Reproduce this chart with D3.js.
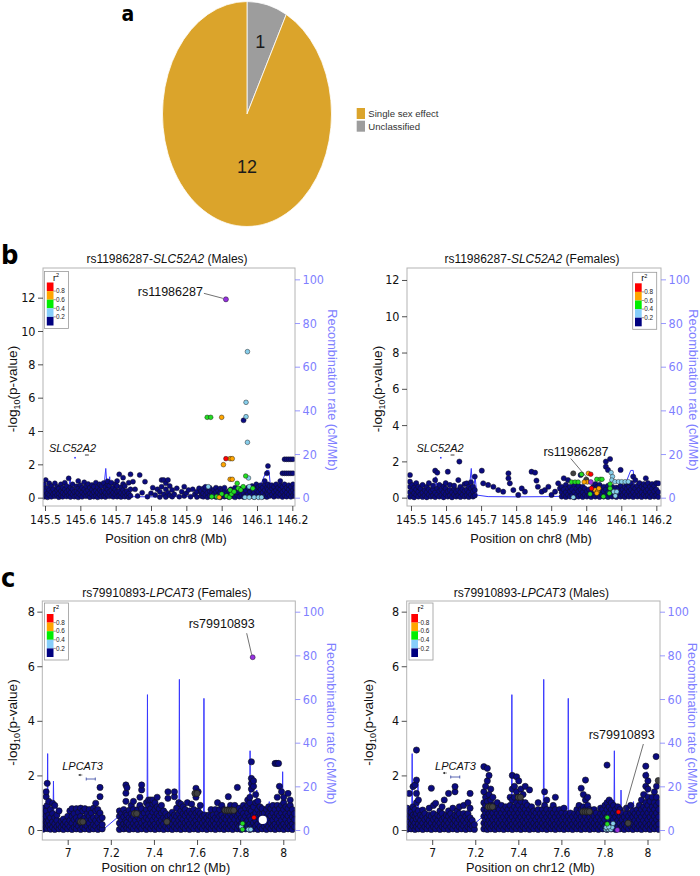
<!DOCTYPE html>
<html><head><meta charset="utf-8">
<script src="https://cdn.jsdelivr.net/npm/d3@7/dist/d3.min.js"></script>
<style>
body{margin:0;background:#fff}
svg{display:block}
text{font-family:"Liberation Sans",Arial,sans-serif}
.nar{font-family:"Liberation Sans Narrow","DejaVu Sans Condensed","Liberation Sans",sans-serif}
</style>
</head><body>
<svg id="chart" width="700" height="876"></svg>
<script>
// ---------------- DATA ----------------
// panel a
const pieCategories = ["Single sex effect", "Unclassified"];
const pieValues = [12, 1];

// tick labels
const chr8Ticks = [145.5,145.6,145.7,145.8,145.9,146.0,146.1,146.2];
const chr12Ticks = [7,7.2,7.4,7.6,7.8,8];
const pvalTicksB = [0,2,4,6,8,10,12];
const pvalTicksC = [0,2,4,6,8];
const recombTicks = [0,20,40,60,80,100];
const ldLegendLabels = ["0.8","0.6","0.4","0.2"];

// recombination rate (cM/Mb) by position (Mb)
const recombChr8 = [[145.49,0.6],[145.52,1.0],[145.55,0.8],[145.566,1.2],[145.571,9.6],[145.576,1.0],[145.6,0.6],[145.62,1.5],[145.64,0.8],[145.665,2.0],[145.672,13.4],[145.677,1.5],[145.683,9.6],[145.688,1.2],[145.72,0.5],[145.8,0.4],[145.9,0.5],[145.95,0.8],[146.0,1.2],[146.05,0.8],[146.1,1.5],[146.127,12.5],[146.134,12.5],[146.14,1.5],[146.17,1.0],[146.21,2.0]];
const recombDotsChr8 = [[145.585,18.3]];
const recombChr12 = [[6.882,3],[6.9,4],[6.905,8],[6.907,35],[6.909,6],[6.925,5],[6.932,7],[6.934,22.4],[6.936,8],[6.945,8],[6.95,10.5],[6.955,3],[6.98,2],[7.05,1.5],[7.1,1],[7.15,1],[7.168,0.5],[7.235,6.1],[7.25,3],[7.3,2],[7.35,3],[7.368,4],[7.37,62],[7.372,4],[7.4,2],[7.45,2],[7.5,2],[7.516,3],[7.518,69],[7.52,3],[7.55,2],[7.6,2],[7.63,3],[7.632,60.3],[7.634,3],[7.7,2],[7.75,2],[7.8,2],[7.844,3],[7.846,36.3],[7.848,4],[7.86,4],[7.875,5],[7.877,18.3],[7.879,5],[7.9,5],[7.93,8],[7.935,13],[7.94,6],[7.97,4],[7.995,4],[7.997,26.7],[7.999,4],[8.03,3],[8.06,3]];

// genes
const genesChr8 = [{name:"SLC52A2", start:145.613, end:145.624}];
const genesChr12 = [{name:"LPCAT3", arrowStart:7.05, arrowEnd:7.068, start:7.086, end:7.128}];

// ---- b, Males: -log10 p by position; navy columns [pos, v1, v2, ...] ----
const bMaleNavy = [[145.497,.05,.3,.55,.8],[145.502,.1,.4,1.06],[145.507,.02,.25,.6],[145.512,.15,.45,.86],[145.518,.05,.35,.7],[145.523,.2,.5],[145.528,.08,.3,.86],[145.534,.15,.45,.65],[145.539,.03,.25,.55],[145.545,.12,.4,.8],[145.55,.05,.3,.6],[145.556,.2,.5,.9],[145.561,.07,.35,.7],[145.567,.15,.45,1.16],[145.572,.04,.3,.62],[145.578,.18,.5,.8],[145.583,.06,.35],[145.589,.12,.4,.68],[145.594,.02,.28,.56,1.0],[145.6,.15,.45,.75],[145.605,.05,.32,.6],[145.611,.2,.5,.92],[145.616,.08,.36,.7],[145.622,.14,.44,.82],[145.627,.03,.26,.6],[145.633,.18,.48,.76],[145.638,.06,.34,.66],[145.644,.12,.42,.9],[145.649,.02,.3,.62],[145.655,.16,.46,.8],[145.66,.06,.36,.7],[145.666,.12,.42,.88],[145.671,.04,.3,.64],[145.677,.16,.5,.78,.98],[145.682,.08,.36,.72],[145.688,.14,.44,.9],[145.693,.05,.3,.6],[145.699,.18,.48,.8],[145.704,.06,.36,.7,1.0],[145.71,.12,.4,1.4],[145.715,.04,.28,.62],[145.721,.16,.46,.82,1.2],[145.726,.06,.32,.7],[145.732,.14,.4],[145.737,.03,.26,.9],[145.742,.12,.5,1.4],
[145.749,.96],[145.755,.5],[145.762,.1],[145.768,1.36],[145.775,.3],[145.783,.96],[145.79,.06],[145.8,.26],[145.805,.6],[145.812,.16],[145.818,.5],[145.825,.04,.36],[145.83,.66,1.06],[145.836,.2,1.06],[145.842,.04,.5,.86],[145.848,.3,1.06],[145.853,.14,.7],[145.86,.06,.46],[145.866,.2],[145.873,.56],[145.88,.06],[145.887,.36],[145.894,.1,.66],[145.9,.26],[145.906,.46],[145.912,.06],[145.918,.5],[145.924,.2],[145.93,.04,.36],[145.936,.56],
[145.942,.1,.3,.4],[145.948,.05,.25,.55],[145.954,.15,.45,.65],[145.96,.03,.3],[145.966,.12,.4,.6],[145.972,.06,.3],[145.978,.18,.48,.2],[145.984,.04,.35,.6],[145.99,.12,.42],[145.996,.02,.3,.55],[146.002,.14,.45],[146.008,.06,.35,.6],[146.014,.12,.25],[146.02,.04,.4],[146.026,.16,.5],[146.032,.08,.3],[146.038,.02,.45,.6],[146.044,.14,.32],[146.05,.06,.4],[146.056,.16,.55],[146.062,.04,.3,4.64],[146.068,.12,.45],[146.074,.2,.6],[146.08,.08,.35],[146.086,.16,.5,.7],[146.092,.04,.3,.6],[146.098,.14,.45,.8],[146.104,.06,.35,.65],[146.11,.18,.5,.75],[146.116,.05,.3,.6],[146.122,.12,.45,.8,1.0],[146.128,.04,.3,.6,1.46],[146.131,.2,.5,.8,1.9],[146.136,.1,.4,.7],[146.142,.18,.55,.75],[146.148,.05,.35,.65],[146.154,.15,.45,.8],[146.16,.08,.3,.6],[146.166,.2,.5,.75,1.0],[146.172,.04,.35,.65,1.46],[146.178,.14,.45,.8,1.46,2.3],[146.184,.06,.3,.6,1.46,2.3],[146.19,.18,.5,.75,1.46,2.3],[146.196,.05,.35,.65,1.46,2.3],[146.202,.14,.45,.8,1.46,2.3],[146.207,.08,.3,.6]];
const bMaleGray = [];
const bMaleLightBlue = [[146.073,8.76],[146.069,5.72],[146.069,4.86],[146.073,3.32],[146.076,1.18],[145.962,.66],[146.078,.66],[146.066,.02],[146.078,.02],[146.092,.02],[146.104,.02],[146.113,.02]];
const bMaleGreen = [[145.959,4.82],[145.969,4.82],[146.068,1.3],[145.972,.06],[145.986,.06],[146.0,.22],[146.014,.1],[146.022,.02],[146.028,.22],[146.024,.46],[146.035,.36],[146.047,.56],[146.061,.66],[146.044,.86],[146.054,.46],[146.088,.56]];
const bMaleOrange = [[146.0,4.82],[146.024,2.34],[146.03,2.34],[146.005,1.98],[146.024,1.1],[146.03,1.1],[145.993,.02]];
const bMaleRed = [[146.012,2.34]];
const bMaleLead = [[146.012,11.9]];

// ---- b, Females ----
const bFemaleNavy = [[145.497,.05,.3,.6,.88,1.25],[145.503,.12,.4,.7],[145.509,.02,.25,.55],[145.515,.15,.45,.8],[145.521,.06,.32,.6],[145.527,.18,.5],[145.533,.04,.28,.7],[145.539,.12,.42],[145.545,.02,.3,.6],[145.551,.16,.46,.8],[145.557,.06,.34],[145.563,.12,.44,.66],[145.569,.03,.28,.97,1.49],[145.575,.16,.5,1.38],[145.581,.06,.36,.7],[145.587,.14,.44],[145.593,.02,.3,.62],[145.599,.18,.5,.8],[145.605,.06,.34,1.43],[145.611,.12,.42,.7],[145.617,.02,.3],[145.623,.16,.48,.66],[145.629,.06,.34],[145.635,.12,.42,.97],[145.638,1.99],[145.641,.04,.3,.6],[145.647,.16,.46],[145.653,.06,.36,.75],[145.659,.14,.44,.79],[145.665,.04,.3,.6],[145.671,.16,.5,.85],[145.677,.06,.34,.6],[145.682,.12,.42,1.16],
[145.702,1.49],[145.706,.79],[145.72,.7],[145.735,.6],[145.749,.42],[145.763,.33],[145.778,1.34,1.07],[145.782,.79],[145.792,.42],[145.806,.15],[145.816,.51],[145.825,.33],[145.844,1.43],[145.854,1.38],[145.858,.94],[145.862,.6],[145.873,.33],[145.882,.42],[145.892,.6],[145.901,.15],[145.911,.33],[145.92,.79],[145.925,.51],
[145.93,.06,.3,.6],[145.936,.14,.45,1.07],[145.942,.04,.3,.7],[145.948,.16,.5,.97],[145.954,.06,.35,.6],[145.96,.14,.45],[145.966,.02,.3,.7],[145.972,.16,.5],[145.978,.06,.35,.65],[145.984,.14,.45,1.25],[145.99,.04,.3,.6],[145.996,.16,.5],[146.002,.06,.35],[146.008,.14,.45],[146.014,.04,.3],[146.02,.16,.6],[146.026,.06,.75],[146.032,.14,.6],[146.038,.04,.3,.7],[146.044,.16,.5],[146.05,.06,.35,.6],[146.056,.14,.45,1.71,1.99],[146.062,.04,.3,.65,1.53],[146.068,.16,.5,2.13],[146.074,.06,.35,.6],[146.08,.14,.45],[146.086,.04,.3,.55],[146.092,.16,.5],[146.098,.06,.35,.65,1.53],[146.104,.14,.45],[146.11,.04,.3,.6],[146.116,.16,.5,.75],[146.122,.06,.35,.6],[146.128,.14,.45,.8],[146.134,.04,.3,.6,1.16],[146.14,.16,.5,.97],[146.146,.06,.35,.65],[146.152,.14,.45,.8],[146.158,.04,.3,.6],[146.164,.16,.5,.75],[146.17,.06,.35,.65,1.07],[146.176,.14,.45,.8],[146.182,.04,.3,.6],[146.188,.16,.5,.75],[146.194,.06,.35,.65],[146.2,.14,.45,.8],[146.206,.04,.3,.79]];
const bFemaleGray = [[145.963,1.34],[146.0,1.0]];
const bFemaleLightBlue = [[145.963,.02],[146.071,1.38],[146.075,1.16],[146.073,.97],[146.082,.88],[146.092,.88],[146.101,.88],[146.111,.88],[146.12,.88],[146.078,.33],[146.087,.33],[146.083,.1]];
const bFemaleGreen = [[145.987,1.29],[145.958,.86],[145.968,.86],[145.977,.86],[146.03,1.01],[146.04,1.01],[146.045,1.01],[146.068,.75],[146.068,.51],[146.011,.2],[146.049,.06],[146.066,.24]];
const bFemaleOrange = [[146.006,1.34],[146.003,.86],[145.994,.86],[146.025,.42],[146.032,.33],[146.036,.51],[146.03,.24]];
const bFemaleRed = [[146.013,1.29],[146.015,.51]];
const bFemaleLead = [[146.013,.86]];

// ---- c, Females ----
const cFemaleNavy = [[6.886,.03,.2,.4,.6,.8],[6.9,.1,.3,.5,.7,1.22,1.4],[6.905,.05,.25,.9,1.71],[6.912,.15,.35,.55,1.05],[6.92,.03,.2,.45,.75],[6.93,.1,.3,.6,.98],[6.94,.02,.22,.45,.9],[6.95,.12,.35,.55],[6.96,.04,.2,.7],[6.97,.1,.32],[6.98,.02,.2,.4],[6.99,.12,.3],[7.0,.04,.22,.5],[7.01,.12,.35,.7],[7.02,.02,.25,.5,.78],[7.03,.1,.38,.6],[7.04,.04,.22,.45,.78],[7.05,.14,.35,.65],[7.06,.02,.25,.5,.8],[7.07,.1,.38,.7],[7.08,.04,.2,.45,.78],[7.09,.14,.35,.6],[7.1,.02,.25,.5,.75],[7.11,.1,.38,.62],[7.12,.04,.2,.45,.8],[7.13,.14,.35,.7,.98],[7.14,.02,.25,.5,.75],[7.15,.1,.38,.62,1.22,1.56],[7.16,.04,.2,.45],
[7.24,.02,.25,.5,.7],[7.25,.12,.38,.6],[7.26,.04,.22,.48,.75],[7.27,.14,.35,.62,1.05,1.35,1.65],[7.275,.06,.28,.55,1.55],[7.285,.02,.2,.45,.72],[7.295,.12,.38,.6,.9],[7.305,.04,.24,.5,.75,1.05],[7.315,.14,.36,.62],[7.325,.02,.22,.48,.75],[7.335,.12,.38,.6,.9,1.2],[7.343,.04,.26,.52,.78,1.47,1.65],[7.355,.14,.36,.62],[7.365,.02,.2,.45,.75,1.0],[7.375,.12,.38,.6,.9,1.1],[7.385,.04,.24,.5,.78,1.1],[7.395,.14,.36,.65,.95,1.1],[7.405,.02,.22,.48,.75,1.0],[7.415,.12,.38,.6,.85,1.2],[7.425,.04,.26,.52,.78],[7.435,.14,.36,.62,.9],[7.445,.02,.22,.45,.7],[7.455,.12,.38,.6],[7.465,.04,.24,.5,1.16,1.4],[7.475,.14,.36,.55],[7.485,.02,.22,.45,.65],[7.495,.12,.35,.55,1.22,1.4],[7.505,.04,.24,.5,.8],[7.515,.14,.36,.6,1.0],[7.525,.02,.22,.45,.7,.95],[7.535,.12,.38,.6,.85],[7.545,.04,.26,.52,.75],[7.555,.14,.36,.62,1.0],[7.565,.02,.22,.48,.7],[7.575,.12,.38,.6,.95],[7.585,.04,.26,.5,.75],[7.595,.14,.36,.62,1.2,1.53],[7.605,.02,.22,.48,.7,1.4],[7.615,.12,.38,.6,.9],[7.625,.04,.26,.5],[7.635,.14,.36,.55],[7.645,.02,.22,.45],[7.655,.12,.35,.55],[7.665,.04,.24,.5,.75],[7.675,.14,.36,.55],[7.685,.02,.22,.45,.75],[7.695,.12,.38,.6,1.0],[7.705,.04,.24,.5,.75],[7.715,.14,.36,.55,.9],[7.725,.02,.22,.45,.75],[7.735,.12,.38,.6],[7.745,.04,.24,.5,.75,1.22],[7.755,.14,.36,.6,.9],[7.765,.02,.22,.48,.75],[7.775,.12,.38,.6,.9],[7.787,.04,.24,.5,.7,1.56],[7.795,.14,.36,.6,.8],[7.805,.02,.22,.45,.7],[7.815,.12,.38,.6,.9],[7.825,.04,.26,.5,.8],[7.835,.14,.36,.62,.9,1.1],[7.845,.02,.22,.48,.75,1.0,1.2],[7.852,.12,.38,.7,1.5,1.7,1.89,2.5],[7.862,.04,.26,.55,.85,1.6,1.8],[7.872,.14,.36,.62,1.0,1.3],[7.882,.02,.22,.48,.75,1.05],[7.892,.12,.38,.6,.85],[7.902,.04,.6,.78],[7.912,.14,.62],[7.922,.02,.22,.48,.75],[7.932,.12,.38,.6,.85],[7.942,.04,.26,.52,.78],[7.952,.14,.36,.62,.9],[7.962,.02,.22,.48,.75,2.44],[7.97,2.44],[7.972,.12,.38,.6,.9,1.2],[7.978,2.44],[7.982,.04,.26,.52,.78,1.6],[7.992,.14,.36,.62,.9,1.4],[8.002,.02,.22,.48,.75,1.0,1.2],[8.012,.12,.38,.6,.85],[8.022,.04,.26,.52,.78,1.34],[8.032,.14,.36,.62,.9,1.1],[8.042,.02,.22,.48,.75],[8.052,.12,.38,.6]];
const cFemaleGray = [[7.06,.3],[7.07,.3],[7.31,.6],[7.32,.6],[7.46,.3],[7.59,1.34],[7.6,1.34],[7.73,.72],[7.74,.72],[7.75,.72],[7.76,.72],[7.77,.72]];
const cFemaleWhite = [[7.905,.37]];
const cFemaleLightBlue = [[7.805,.12],[7.838,.02],[7.849,.02]];
const cFemaleGreen = [[7.811,.24],[7.811,.02]];
const cFemaleOrange = [];
const cFemaleRed = [[7.864,.46]];
const cFemaleLead = [[7.858,6.33]];

// ---- c, Males ----
const cMaleNavy = [[6.884,.03,.2,.4,.6,.8],[6.893,.12,.3,.5,.7,1.34],[6.902,.04,.22,.45,.65],[6.911,.14,.35,.55,.85,1.59],[6.92,.02,.25,.5,.75,1.65],[6.927,.12,.4,.6,1.0,1.34,1.83,2.93],[6.936,.04,.22,.45,.7,1.1],[6.946,.14,.35,.55],[6.956,.02,.25,.5,.73],[6.966,.12,.38,.6],[6.976,.04,.22,.45],[6.986,.14,.35,.55,.8],[6.996,.02,.25,.5,1.53],[7.006,.12,.38,.6,.9],[7.016,.04,.22,.45,.98],[7.026,.14,.35,.55],[7.036,.02,.25,.5,.7],[7.046,.12,.38,.6,.85],[7.056,.04,.22,.45,1.1],[7.066,.14,.35,.55],[7.076,.02,.25,.5,.7,1.34],[7.086,.12,.38,.6],[7.096,.04,.22,.45,.8],[7.106,.14,.35,.55,1.4,1.59],[7.116,.02,.25,.5,.7],[7.126,.12,.38,.6,.85],[7.136,.04,.22,.45],[7.146,.14,.35,.6,.9],[7.156,.02,.25,.5],[7.166,.12,.38,.6,1.0],[7.176,.04,.22,.45,.8,1.34],[7.186,.14,.35],[7.196,.02,.2],
[7.24,.04,.25,.5,.75,1.0,1.4,2.32],[7.248,.14,.38,.62,.9,1.2,1.6],[7.256,.02,.22,.48,.75,1.05,1.8,2.26],[7.264,.12,.35,.6,.85,1.3,2.0],[7.272,.04,.25,.5,.75,1.1,1.5],[7.282,.14,.38,.62,.9,1.2],[7.292,.02,.22,.48,.75],[7.302,.12,.35,.6,.85,1.0],[7.312,.04,.25,.5,.75],[7.322,.14,.38,.62,.9],[7.332,.02,.22,.48,.75],[7.342,.12,.35,.6,.85],[7.352,.04,.25,.5,.75],[7.362,.14,.38,.62,.9,1.2],[7.372,.02,.22,.48,.75,1.1,1.5,2.0],[7.382,.12,.35,.6,.85,1.2,1.6],[7.392,.04,.25,.5,.75,1.0,1.4,1.95],[7.402,.14,.38,.62,.9,1.2,1.8],[7.412,.02,.22,.48,.75,1.05,1.5],[7.422,.12,.35,.6,.85,1.3],[7.432,.04,.25,.5,.75,1.0,1.6],[7.442,.14,.38,.62,.9],[7.452,.02,.22,.48,.75,1.47],[7.462,.12,.35,.6,.85],[7.472,.04,.25,.5,.7],[7.482,.14,.38,.62],[7.492,.02,.22,.48,.75,1.0],[7.502,.12,.35,.6],[7.512,.04,.25,.5,.75],[7.522,.14,.38,.62,.9,1.4],[7.532,.02,.22,.48,.75,1.1],[7.542,.12,.35,.6],[7.552,.04,.25,.5,.75],[7.562,.14,.38,.62,.9],[7.572,.02,.22,.48,.75,1.2],[7.582,.12,.35,.6],[7.592,.04,.25,.5,.75],[7.602,.14,.38,.62],[7.612,.02,.22,.48,.8],[7.622,.12,.35,.6],[7.632,.04,.25,.5],[7.642,.14,.38,.62],[7.652,.02,.22,.48],[7.662,.12,.35,.6],[7.672,.04,.25,.5,.75],[7.682,.14,.38,.62,.9],[7.692,.02,.22,.48,.75,1.53],[7.702,.12,.35,.6,.85,1.3],[7.712,.04,.25,.5,.75,1.1,1.83],[7.722,.14,.38,.62,.9,1.2],[7.732,.02,.22,.48,.75],[7.742,.12,.35,.6],[7.752,.04,.25,.5,.75],[7.762,.14,.38,.62],[7.772,.02,.22,.48],[7.782,.12,.35,.6,.8],[7.792,.04,.25,.5,.75],[7.802,.14,.38,.62,.9],[7.812,.02,.22,.48,.75,1.0,2.38],[7.822,.12,.35,.6,.85,1.1],[7.832,.04,.25,.5,.75,1.0],[7.842,.14,.38,.62,.9],[7.852,.02,.22,.48,.75],[7.862,.12,.35,.6,.85],[7.872,.04,.25,.5,.75],[7.882,.14,.38,.62],[7.892,.02,.22,.48],[7.902,.12,.35,.6,.8],[7.912,.04,.25,.5],[7.922,.14,.38,.62,.9],[7.932,.02,.22,.48,.7],[7.942,.12,.35,.6],[7.952,.04,.25,.5,.75],[7.962,.14,.38,.62,.9],[7.972,.02,.22,.48,.75,1.1],[7.982,.12,.35,.6,.85,1.3],[7.992,.04,.25,.5,.75,1.0,1.6,2.0,2.34],[8.002,.14,.38,.62,.9,1.2,1.5,1.8],[8.012,.02,.22,.48,.75,1.05],[8.022,.12,.35,.6,.85,1.2],[8.032,.04,.25,.5,.75,1.0,1.4],[8.04,2.69],[8.042,.14,.38,.62,.9,1.2,1.6],[8.052,.02,.22,.48,.75,1.0]];
const cMaleGray = [[7.26,.85],[7.27,.85],[7.28,.85],[7.4,1.2],[7.41,1.2],[7.7,.67],[7.71,.67],[7.72,.67],[7.73,.67],[7.91,.25],[8.05,1.81]];
const cMaleWhite = [];
const cMaleLightBlue = [[7.806,.02],[7.812,.05],[7.818,.02],[7.824,.06],[7.83,.02],[7.836,.1],[7.84,.24],[7.808,.1],[7.82,.12]];
const cMaleGreen = [[7.813,.46],[7.813,.22]];
const cMaleOrange = [];
const cMaleRed = [[7.865,.66]];
const cMaleLead = [[7.86,0.0]];

// ---------------- DRAWING ----------------
const svg = d3.select("#chart");
const COL = {navy:"#0B0B80", gray:"#404040", lb:"#87CEEB", green:"#22DD22", orange:"#FFA500", red:"#FF0000", lead:"#9632E0", recomb:"#3838FF", raxis:"#7F7FFF"};
const legendColors = ["#FF0000","#FFA500","#00EE00","#87CEFA","#000080"];

// ---- panel a ----
(function(){
  const pieColors = {"Single sex effect":"#DBA42B","Unclassified":"#9D9D9D"};
  const cx = 247, cy = 114, R = 84.5, sy = 1.331;
  const input = pieCategories.map((c,i)=>({c, v:pieValues[i]})).reverse();
  const arcs = d3.pie().sort(null).value(d=>d.v)(input);
  const g = svg.append("g").attr("transform",`translate(${cx},${cy}) scale(1,${sy})`);
  g.selectAll("path").data(arcs).join("path")
    .attr("d", d3.arc().innerRadius(0).outerRadius(R))
    .attr("fill", d=>pieColors[d.data.c])
    .attr("stroke","#fff").attr("stroke-width",0.8).attr("vector-effect","non-scaling-stroke");
  const labelArc = d3.arc().innerRadius(R*0.66).outerRadius(R*0.66);
  const labelAngleFix = {"Single sex effect":Math.PI, "Unclassified":null};
  arcs.forEach(a=>{
    let px, py;
    if (labelAngleFix[a.data.c] !== null) { const ang = labelAngleFix[a.data.c]; const rr = R*0.47; px = rr*Math.sin(ang); py = -rr*Math.cos(ang); }
    else { [px,py] = labelArc.centroid(a); }
    svg.append("text").attr("x", cx+px).attr("y", cy+py*sy).attr("dy","0.36em")
      .attr("text-anchor","middle").attr("font-size",18).attr("fill","#1a1a1a").text(a.data.v);
  });
  const lg = svg.append("g").attr("transform","translate(356.7,108)");
  pieCategories.forEach((c,i)=>{
    lg.append("rect").attr("x",0).attr("y",i*12.7).attr("width",8.3).attr("height",11).attr("fill",pieColors[c]);
    lg.append("text").attr("x",11.6).attr("y",i*12.7+5.8).attr("dy","0.36em").attr("font-size",9.6).attr("fill","#333").text(c);
  });
  svg.append("text").attr("x",121.5).attr("y",20.5).attr("font-size",21).attr("font-weight","bold").attr("class","nar").text("a");
})();

svg.append("text").attr("x",1).attr("y",263.5).attr("font-size",27).attr("font-weight","bold").attr("class","nar").text("b");
svg.append("text").attr("x",1).attr("y",587).attr("font-size",27).attr("font-weight","bold").attr("class","nar").text("c");

function expand(cols){ const out=[]; cols.forEach(c=>{ for(let i=1;i<c.length;i++) out.push([c[0],c[i]]); }); return out; }

function ldLegend(x0,y0){
  const g = svg.append("g").attr("transform",`translate(${x0},${y0})`);
  g.append("rect").attr("width",24).attr("height",57).attr("fill","#fff").attr("stroke","#999").attr("stroke-width",0.8);
  g.append("text").attr("x",11.5).attr("y",9).attr("font-size",9).attr("text-anchor","middle").text("r").append("tspan").attr("font-size",5.5).attr("dy",-3.5).text("2");
  const h = 8.6, top = 11;
  legendColors.forEach((c,i)=>g.append("rect").attr("x",2.3).attr("y",top+i*h).attr("width",6.7).attr("height",h).attr("fill",c));
  ldLegendLabels.forEach((l,i)=>{
    const yy = top+(i+1)*h;
    g.append("line").attr("x1",9).attr("x2",11.3).attr("y1",yy).attr("y2",yy).attr("stroke","#333").attr("stroke-width",0.5);
    g.append("text").attr("x",11.5).attr("y",yy).attr("dy","0.35em").attr("font-size",6.4).attr("fill","#222").text(l);
  });
}

const panels = [
 {id:"bM", sex:"Males", snp:"rs11986287", gene:"SLC52A2", box:[43,268,295,506], xDom:[145.4943,146.2076], yDom:[-0.5,13.78], rDom:[-3.8,105.2],
  xTicks:chr8Ticks, yTicks:pvalTicksB, xLabel:"Position on chr8 (Mb)", recomb:recombChr8, rdots:recombDotsChr8, genes:genesChr8, geneLabelPos:145.578, geneLabelY:451.7, geneY:455,
  navy:bMaleNavy, gray:bMaleGray, white:[], lb:bMaleLightBlue, green:bMaleGreen, orange:bMaleOrange, red:bMaleRed, lead:bMaleLead,
  rN:2.5, rC:2.35, sw:0.45, titleY:263.3, yTitleX:12, rTitleX:333, xTitleY:543, xTickBase:524, legend:[44.5,271.5],
  snpLab:{anchor:"end", dx:-23, dy:-3.3, l1:[-22,-6], l2:[-3,-1]}},
 {id:"bF", sex:"Females", snp:"rs11986287", gene:"SLC52A2", box:[407,268,661,506], xDom:[145.4886,146.2133], yDom:[-0.46,12.66], rDom:[-3.8,105.2],
  xTicks:chr8Ticks, yTicks:pvalTicksB, xLabel:"Position on chr8 (Mb)", recomb:recombChr8, rdots:recombDotsChr8, genes:genesChr8, geneLabelPos:145.583, geneLabelY:451.7, geneY:455,
  navy:bFemaleNavy, gray:bFemaleGray, white:[], lb:bFemaleLightBlue, green:bFemaleGreen, orange:bFemaleOrange, red:bFemaleRed, lead:bFemaleLead,
  rN:2.6, rC:2.3, sw:0.45, titleY:263.3, yTitleX:377.5, rTitleX:694, xTitleY:543, xTickBase:524, legend:[632.7,272.3],
  snpLab:{anchor:"middle", dx:-14.8, dy:-25.8, l1:[-20,-23.5], l2:[-2,-2.2]}},
 {id:"cF", sex:"Females", snp:"rs79910893", gene:"LPCAT3", box:[42.3,601,295.3,840], xDom:[6.8822,8.0557], yDom:[-0.366,8.39], rDom:[-4.58,104.9],
  xTicks:chr12Ticks, yTicks:pvalTicksC, xLabel:"Position on chr12 (Mb)", recomb:recombChr12, rdots:[], genes:genesChr12, geneLabelPos:7.069, geneLabelY:770, geneY:776,
  navy:cFemaleNavy, gray:cFemaleGray, white:cFemaleWhite, lb:cFemaleLightBlue, green:cFemaleGreen, orange:cFemaleOrange, red:cFemaleRed, lead:cFemaleLead,
  rN:3.1, rC:2.3, sw:0.6, titleY:596.7, yTitleX:12.5, rTitleX:332, xTitleY:871.5, xTickBase:856.7, legend:[44.5,603],
  snpLab:{anchor:"middle", dx:-31, dy:-29, l1:[-6,-24], l2:[-1,-2.5]}},
 {id:"cM", sex:"Males", snp:"rs79910893", gene:"LPCAT3", box:[406.7,601,660,840], xDom:[6.8816,8.058], yDom:[-0.366,8.39], rDom:[-4.58,104.9],
  xTicks:chr12Ticks, yTicks:pvalTicksC, xLabel:"Position on chr12 (Mb)", recomb:recombChr12, rdots:[], genes:genesChr12, geneLabelPos:7.108, geneLabelY:770, geneY:774,
  navy:cMaleNavy, gray:cMaleGray, white:cMaleWhite, lb:cMaleLightBlue, green:cMaleGreen, orange:cMaleOrange, red:cMaleRed, lead:cMaleLead,
  rN:3.1, rC:2.3, sw:0.6, titleY:596.7, yTitleX:368.5, rTitleX:692.5, xTitleY:871.5, xTickBase:856.7, legend:[409,603],
  snpLab:{anchor:"middle", dx:4.3, dy:-90.7, l1:[26,-86], l2:[6.5,-18]}}
];

panels.forEach(P=>{
  const [x0,y0,x1,y1] = P.box;
  const x = d3.scaleLinear().domain(P.xDom).range([x0,x1]);
  const y = d3.scaleLinear().domain(P.yDom).range([y1,y0]);
  const yr = d3.scaleLinear().domain(P.rDom).range([y1,y0]);
  const g = svg.append("g");
  svg.append("clipPath").attr("id","clip"+P.id).append("rect").attr("x",x0).attr("y",y0).attr("width",x1-x0).attr("height",y1-y0);
  const plot = g.append("g").attr("clip-path",`url(#clip${P.id})`);
  plot.append("path").datum(P.recomb).attr("d", d3.line().x(d=>x(d[0])).y(d=>yr(d[1])))
    .attr("fill","none").attr("stroke",COL.recomb).attr("stroke-width",1);
  plot.selectAll("rect.rd").data(P.rdots).join("rect").attr("class","rd")
    .attr("x",d=>x(d[0])-0.8).attr("y",d=>yr(d[1])-0.8).attr("width",1.6).attr("height",1.6).attr("fill",COL.recomb);
  const layers = [
    [expand(P.navy), COL.navy, P.rN, P.sw],
    [P.gray, COL.gray, P.rN, P.sw],
    [P.white, "#fff", P.rN+1, 0],
    [P.lb, COL.lb, P.rC, 0.45],
    [P.green, COL.green, P.rC, 0.45],
    [P.orange, COL.orange, P.rC, 0.45],
    [P.red, COL.red, P.rC, 0.45],
    [P.lead, COL.lead, P.rC+0.2, 0.45]
  ];
  layers.forEach(([data,fill,r,sw])=>{
    plot.append("g").selectAll("circle").data(data).join("circle")
      .attr("cx",d=>x(d[0])).attr("cy",d=>y(d[1])).attr("r",r)
      .attr("fill",fill).attr("stroke", sw ? "#111" : "none").attr("stroke-width",sw);
  });
  // box
  g.append("rect").attr("x",x0).attr("y",y0).attr("width",x1-x0).attr("height",y1-y0)
    .attr("fill","none").attr("stroke","#b4b4b4").attr("stroke-width",1);
  // axes
  const ax = g.append("g").attr("transform",`translate(0,${y1})`)
    .call(d3.axisBottom(x).tickValues(P.xTicks).tickSize(5).tickPadding(0).tickFormat(d=>String(+d.toFixed(1))));
  ax.select(".domain").remove();
  ax.selectAll("line").attr("stroke","#222").attr("stroke-width",0.8);
  ax.selectAll("text").attr("dy",null).attr("y",P.xTickBase-y1).attr("font-size",12).attr("fill","#111").attr("font-family",null).attr("class","nar");
  const ay = g.append("g").attr("transform",`translate(${x0},0)`)
    .call(d3.axisLeft(y).tickValues(P.yTicks).tickSize(5).tickPadding(2.5));
  ay.select(".domain").remove();
  ay.selectAll("line").attr("stroke","#222").attr("stroke-width",0.8);
  ay.selectAll("text").attr("font-size",12.5).attr("fill","#111").attr("font-family",null).attr("class","nar");
  const ar = g.append("g").attr("transform",`translate(${x1},0)`)
    .call(d3.axisRight(yr).tickValues(recombTicks).tickSize(5).tickPadding(2.5));
  ar.select(".domain").remove();
  ar.selectAll("line").attr("stroke",COL.raxis).attr("stroke-width",0.8);
  ar.selectAll("text").attr("font-size",12.5).attr("fill",COL.raxis).attr("font-family",null).attr("class","nar");
  // titles
  const cxm = (x0+x1)/2;
  const t = g.append("text").attr("x",cxm-2).attr("y",P.titleY).attr("text-anchor","middle").attr("font-size",12).attr("fill","#111");
  t.append("tspan").text(P.snp+"-");
  t.append("tspan").attr("font-style","italic").text(P.gene);
  t.append("tspan").text(" ("+P.sex+")");
  const cym = (y0+y1)/2;
  const yt = g.append("text").attr("transform",`translate(${P.yTitleX},${cym+2}) rotate(-90)`).attr("text-anchor","middle").attr("dy","0.36em").attr("font-size",13.6).attr("fill","#111");
  yt.append("tspan").text("-log");
  yt.append("tspan").attr("font-size",9).attr("dy",3).text("10");
  yt.append("tspan").attr("dy",-3).text("(p-value)");
  g.append("text").attr("transform",`translate(${P.rTitleX},${cym+3}) rotate(90)`).attr("text-anchor","middle").attr("dy","0.36em")
    .attr("font-size",12.8).attr("fill",COL.raxis).text("Recombination rate (cM/Mb)");
  g.append("text").attr("x",cxm-3).attr("y",P.xTitleY).attr("text-anchor","middle").attr("font-size",12.8).attr("fill","#111").text(P.xLabel);
  // gene annotation
  g.append("text").attr("x",x(P.geneLabelPos)).attr("y",P.geneLabelY).attr("text-anchor","middle").attr("font-size",11).attr("font-style","italic").attr("fill","#111").text(P.gene);
  P.genes.forEach(ge=>{
    if (ge.arrowStart !== undefined) {
      const ya = P.geneY - 1;
      g.append("line").attr("x1",x(ge.arrowStart)).attr("x2",x(ge.arrowEnd)).attr("y1",ya).attr("y2",ya).attr("stroke","#222").attr("stroke-width",0.6);
      g.append("path").attr("d",`M${x(ge.arrowStart)},${ya} l2,-1.2 l0,2.4 z`).attr("fill","#222");
      const yb = P.geneY + 3;
      g.append("line").attr("x1",x(ge.start)).attr("x2",x(ge.end)).attr("y1",yb).attr("y2",yb).attr("stroke","#3040a0").attr("stroke-width",0.8);
      [ge.start,ge.end].forEach(p=>g.append("line").attr("x1",x(p)).attr("x2",x(p)).attr("y1",yb-1.5).attr("y2",yb+1.5).attr("stroke","#3040a0").attr("stroke-width",0.8));
    } else {
      g.append("line").attr("x1",x(ge.start)).attr("x2",x(ge.end)).attr("y1",P.geneY).attr("y2",P.geneY).attr("stroke","#222").attr("stroke-width",0.9);
    }
  });
  // SNP label
  const lead = P.lead[0];
  const lx = x(lead[0]), ly = y(lead[1]);
  const s = P.snpLab;
  g.append("text").attr("x",lx+s.dx).attr("y",ly+s.dy).attr("text-anchor",s.anchor).attr("font-size",12.5).attr("fill","#111").text(P.snp);
  g.append("line").attr("x1",lx+s.l1[0]).attr("y1",ly+s.l1[1]).attr("x2",lx+s.l2[0]).attr("y2",ly+s.l2[1]).attr("stroke","#333").attr("stroke-width",0.7);
  ldLegend(P.legend[0],P.legend[1]);
});
</script>
</body></html>
